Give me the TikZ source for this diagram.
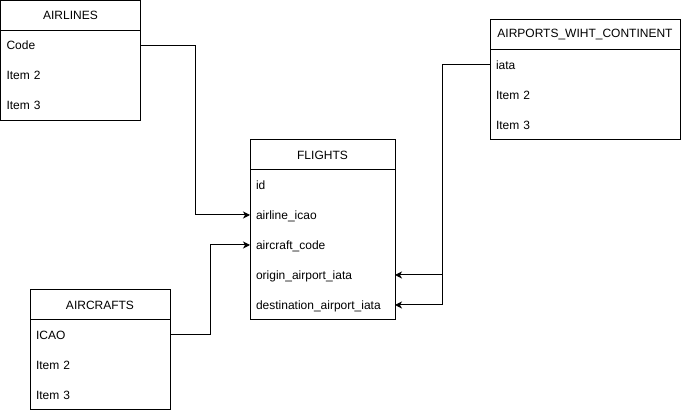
\documentclass[tikz,border=0pt]{standalone}
\usepackage{fontspec}
\setmainfont{Liberation Sans}
\usepackage{tikz}
\usetikzlibrary{positioning,arrows.meta,calc}
\tikzset{
  hdr/.style={rectangle,draw,line width=1pt,anchor=north west,outer sep=0pt,
              minimum width=#1,minimum height=30pt,inner sep=0pt},
  item/.style={rectangle,outer sep=0pt,inner xsep=6pt,inner ysep=0pt,
               text width=#1,minimum height=30pt,
               text height=10pt,text depth=1.4pt,align=left},
  edge/.style={-{Stealth[length=7pt,width=7pt,inset=2pt]},line width=1pt},
}
\begin{document}
\begin{tikzpicture}[x=1pt,y=-1pt,font=\fontsize{12}{14}\selectfont,
                    node distance=0pt]
\useasboundingbox (0,0) rectangle (681,411);

% Airlines (top left)
\node[hdr=140pt] (alHead) at (0.5,0.5) {AIRLINES};
\node[item=128pt,anchor=north west] (alCode) at (alHead.south west) {Code};
\node[item=128pt,below=of alCode] (alItem2) {Item 2};
\node[item=128pt,below=of alItem2] (alItem3) {Item 3};
\draw[line width=1pt] (alHead.south west) rectangle (alItem3.south east);

% Flights (centre)
\node[hdr=145pt] (flHead) at (250,140) {FLIGHTS};
\node[item=133pt,anchor=north west] (flId) at (flHead.south west) {id};
\node[item=133pt,below=of flId] (flAirline) {airline\_icao};
\node[item=133pt,below=of flAirline] (flAircraft) {aircraft\_code};
\node[item=133pt,below=of flAircraft] (flOrigin) {origin\_airport\_iata};
\node[item=133pt,below=of flOrigin] (flDest) {destination\_airport\_iata};
\draw[line width=1pt] (flHead.south west) rectangle (flDest.south east);

% Airports (top right)
\node[hdr=190pt] (apHead) at (490,20) {AIRPORTS\_WIHT\_CONTINENT};
\node[item=178pt,anchor=north west] (apIata) at (apHead.south west) {iata};
\node[item=178pt,below=of apIata] (apItem2) {Item 2};
\node[item=178pt,below=of apItem2] (apItem3) {Item 3};
\draw[line width=1pt] (apHead.south west) rectangle (apItem3.south east);

% Aircrafts (bottom left)
\node[hdr=140pt] (acHead) at (30,290) {AIRCRAFTS};
\node[item=128pt,anchor=north west] (acIcao) at (acHead.south west) {ICAO};
\node[item=128pt,below=of acIcao] (acItem2) {Item 2};
\node[item=128pt,below=of acItem2] (acItem3) {Item 3};
\draw[line width=1pt] (acHead.south west) rectangle (acItem3.south east);

% Links
\draw[edge] (alCode.east) -- ++(55,0) |- (flAirline.west);
\draw[edge] (acIcao.east) -- ++(40,0) |- (flAircraft.west);
\foreach \x in {flOrigin,flDest} \draw[edge] (apIata.west) -- ++(-48,0) |- (\x.east);

\end{tikzpicture}
\end{document}
